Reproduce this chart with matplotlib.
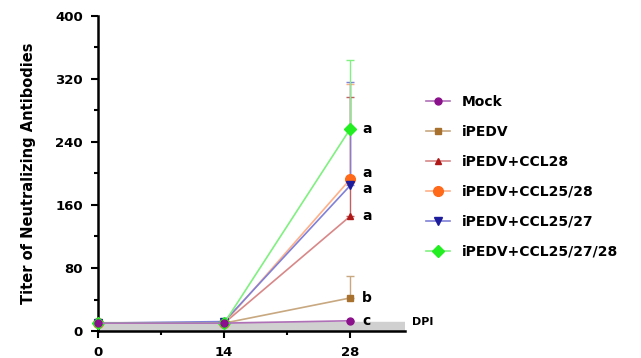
import matplotlib
matplotlib.use("Agg")
import matplotlib.pyplot as plt
from matplotlib.ticker import MultipleLocator

days = [0, 14, 28]
groups = ["Mock", "iPEDV", "iPEDV+CCL28", "iPEDV+CCL25/28", "iPEDV+CCL25/27", "iPEDV+CCL25/27/28"]
mock = [10, 10, 13]
ipedv = [10, 10, 42]
ccl28 = [10, 10, 146]
ccl25_28 = [10, 10, 193]
ccl25_27 = [10, 12, 185]
ccl25_27_28 = [10, 10, 257]
err_mock = [0, 0, 0]
err_ipedv = [0, 0, 28]
err_ccl28 = [0, 0, 151]
err_ccl25_28 = [0, 0, 120]
err_ccl25_27 = [0, 0, 131]
err_ccl25_27_28 = [0, 0, 87]
letters = ["c", "b", "a", "a", "a", "a"]

series = [mock, ipedv, ccl28, ccl25_28, ccl25_27, ccl25_27_28]
errors = [err_mock, err_ipedv, err_ccl28, err_ccl25_28, err_ccl25_27, err_ccl25_27_28]
markers = ["o", "s", "^", "o", "v", "D"]
msizes = [5, 5, 5, 7, 6, 6]
colors = ["#8B108B", "#A8712E", "#B01818", "#FF6A1A", "#1C1C9C", "#22EE22"]
lcolors = ["#B070B8", "#C8A880", "#D88888", "#FFB088", "#8080D8", "#80F080"]
letter_dy = [0, 0, 0, 8, -5, 0]

fig = plt.figure(figsize=(6.41, 3.58), dpi=100)
ax = fig.add_axes([0.1529, 0.0754, 0.4795, 0.88])

ax.axhspan(0, 11, color="#D0D0D0", zorder=0)

order = [1, 2, 3, 4, 5, 0]
handles = {}
for i in order:
    y = series[i]
    ax.errorbar(days, y, yerr=[[0]*3, errors[i]], fmt="none", ecolor=lcolors[i] if i != 2 else "#C06060",
                elinewidth=1, capsize=3, capthick=1, zorder=2, clip_on=False)
    h, = ax.plot(days, y, color=lcolors[i], lw=1.2, marker=markers[i], ms=msizes[i],
                 mfc=colors[i], mec=colors[i], zorder=3, clip_on=False)
    handles[i] = h
    ax.text(29.3, y[2] + letter_dy[i], letters[i], fontsize=10, fontweight="bold",
            va="center", ha="left")

ax.set_xlim(0, 34.1)
ax.set_ylim(0, 400)
ax.xaxis.set_major_locator(MultipleLocator(14))
ax.xaxis.set_minor_locator(MultipleLocator(7))
ax.yaxis.set_major_locator(MultipleLocator(80))
ax.yaxis.set_minor_locator(MultipleLocator(40))
for s in ["top", "right"]:
    ax.spines[s].set_visible(False)
for s in ["left", "bottom"]:
    ax.spines[s].set_linewidth(1.8)
ax.tick_params(which="major", direction="out", length=5, width=1.5, labelsize=9.5, pad=6)
ax.tick_params(which="minor", direction="out", length=3, width=1.5)
for lbl in ax.get_xticklabels() + ax.get_yticklabels():
    lbl.set_fontweight("bold")

ax.set_ylabel("Titer of Neutralizing Antibodies", fontsize=10.5, fontweight="bold", labelpad=14)
fig.text(0.643, 0.1, "DPI", fontsize=8, fontweight="bold", ha="left", va="center")

leg = fig.legend([handles[i] for i in range(6)], groups, loc="upper left",
                 bbox_to_anchor=(0.645, 0.77), frameon=False, fontsize=10,
                 handlelength=1.7, labelspacing=1.15, handletextpad=0.9)
for t in leg.get_texts():
    t.set_fontweight("bold")

fig.savefig("out.png", dpi=100)
